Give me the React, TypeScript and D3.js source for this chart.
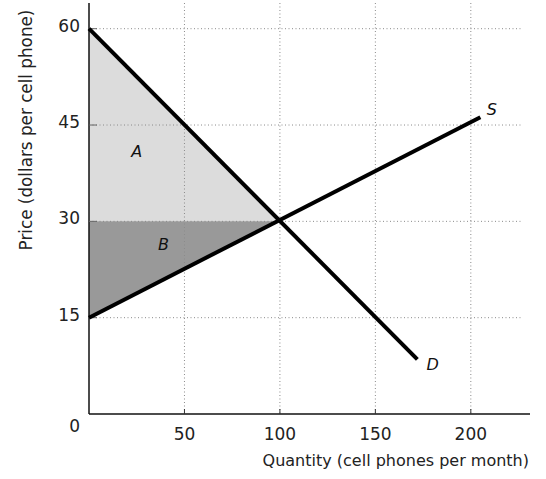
import { useEffect, useRef } from "react";
import * as d3 from "d3";

// Cell phone market: demand, supply and consumer / producer surplus
const W = 546;
const H = 479;
const MARGIN = { top: 3, right: 16, bottom: 65, left: 89 };

const X_TICKS = [50, 100, 150, 200];
const Y_TICKS = [15, 30, 45, 60];
const DEMAND: [number, number][] = [
  [0, 60],
  [172, 8.5],
];
const SUPPLY: [number, number][] = [
  [0, 15],
  [205, 46.2],
];
const AREA_A: [number, number][] = [
  [0, 60],
  [100, 30],
  [0, 30],
];
const AREA_B: [number, number][] = [
  [0, 30],
  [100, 30],
  [0, 15],
];
const LABELS = [
  { text: "A", q: 25, p: 40 },
  { text: "B", q: 39, p: 25.5 },
  { text: "S", q: 211, p: 46.6 },
  { text: "D", q: 180, p: 6.9 },
];

const FONT = "'DejaVu Sans', sans-serif";

export default function App() {
  const ref = useRef<SVGSVGElement>(null);

  useEffect(() => {
    const svg = d3.select(ref.current);
    svg.selectAll("*").remove();

    const innerW = W - MARGIN.left - MARGIN.right;
    const innerH = H - MARGIN.top - MARGIN.bottom;
    const x = d3.scaleLinear().domain([0, 231]).range([0, innerW]);
    const y = d3.scaleLinear().domain([0, 64]).range([innerH, 0]);

    const g = svg
      .append("g")
      .attr("transform", `translate(${MARGIN.left},${MARGIN.top})`);

    // surplus areas
    const poly = d3
      .line<[number, number]>()
      .x((d) => x(d[0]))
      .y((d) => y(d[1]));
    g.append("path").attr("d", poly(AREA_A) + "Z").attr("fill", "#dcdcdc");
    g.append("path").attr("d", poly(AREA_B) + "Z").attr("fill", "#999999");

    // dotted grid
    const gridEnd = x(226);
    g.selectAll(".hgrid")
      .data(Y_TICKS)
      .join("line")
      .attr("x1", 0)
      .attr("x2", gridEnd)
      .attr("y1", (d) => y(d))
      .attr("y2", (d) => y(d))
      .attr("stroke", "#8a8a8a")
      .attr("stroke-width", 1)
      .attr("stroke-dasharray", "1,2.5");
    g.selectAll(".vgrid")
      .data(X_TICKS)
      .join("line")
      .attr("x1", (d) => x(d))
      .attr("x2", (d) => x(d))
      .attr("y1", 0)
      .attr("y2", innerH)
      .attr("stroke", "#8a8a8a")
      .attr("stroke-width", 1)
      .attr("stroke-dasharray", "1,2.5");

    // axes
    g.append("line")
      .attr("x1", 0)
      .attr("x2", 0)
      .attr("y1", 0)
      .attr("y2", innerH)
      .attr("stroke", "#111")
      .attr("stroke-width", 1.5);
    g.append("line")
      .attr("x1", 0)
      .attr("x2", innerW)
      .attr("y1", innerH)
      .attr("y2", innerH)
      .attr("stroke", "#111")
      .attr("stroke-width", 1.5);

    // small ticks
    g.selectAll(".xtick")
      .data(X_TICKS)
      .join("line")
      .attr("x1", (d) => x(d))
      .attr("x2", (d) => x(d))
      .attr("y1", innerH)
      .attr("y2", innerH - 5)
      .attr("stroke", "#333");
    g.selectAll(".ytick")
      .data(Y_TICKS)
      .join("line")
      .attr("x1", 0)
      .attr("x2", 8)
      .attr("y1", (d) => y(d))
      .attr("y2", (d) => y(d))
      .attr("stroke", "#666");

    // tick labels
    g.selectAll(".xlab")
      .data(X_TICKS)
      .join("text")
      .attr("x", (d) => x(d))
      .attr("y", innerH + 26)
      .attr("text-anchor", "middle")
      .attr("font-family", FONT)
      .attr("font-size", 17)
      .attr("fill", "#222")
      .text((d) => d);
    g.selectAll(".ylab")
      .data(Y_TICKS)
      .join("text")
      .attr("x", -9)
      .attr("y", (d) => y(d) + 3)
      .attr("text-anchor", "end")
      .attr("font-family", FONT)
      .attr("font-size", 17)
      .attr("fill", "#222")
      .text((d) => d);
    g.append("text")
      .attr("x", -9)
      .attr("y", innerH + 18)
      .attr("text-anchor", "end")
      .attr("font-family", FONT)
      .attr("font-size", 17)
      .attr("fill", "#222")
      .text("0");

    // axis titles
    g.append("text")
      .attr("x", x(231) - 1)
      .attr("y", innerH + 52)
      .attr("text-anchor", "end")
      .attr("font-family", FONT)
      .attr("font-size", 16)
      .attr("fill", "#222")
      .text("Quantity (cell phones per month)");
    svg
      .append("text")
      .attr("transform", `translate(32,130) rotate(-90)`)
      .attr("text-anchor", "middle")
      .attr("font-family", FONT)
      .attr("font-size", 16.8)
      .attr("fill", "#222")
      .text("Price (dollars per cell phone)");

    // curves
    g.append("path")
      .attr("d", poly(DEMAND))
      .attr("fill", "none")
      .attr("stroke", "#000")
      .attr("stroke-width", 4);
    g.append("path")
      .attr("d", poly(SUPPLY))
      .attr("fill", "none")
      .attr("stroke", "#000")
      .attr("stroke-width", 4);

    // labels
    g.selectAll(".lbl")
      .data(LABELS)
      .join("text")
      .attr("x", (d) => x(d.q))
      .attr("y", (d) => y(d.p))
      .attr("text-anchor", "middle")
      .attr("font-family", FONT)
      .attr("font-style", "italic")
      .attr("font-size", 16)
      .attr("fill", "#111")
      .text((d) => d.text);
  }, []);

  return (
    <svg
      ref={ref}
      width={W}
      height={H}
      style={{ position: "absolute", left: 0, top: 0, background: "#fff" }}
    />
  );
}
